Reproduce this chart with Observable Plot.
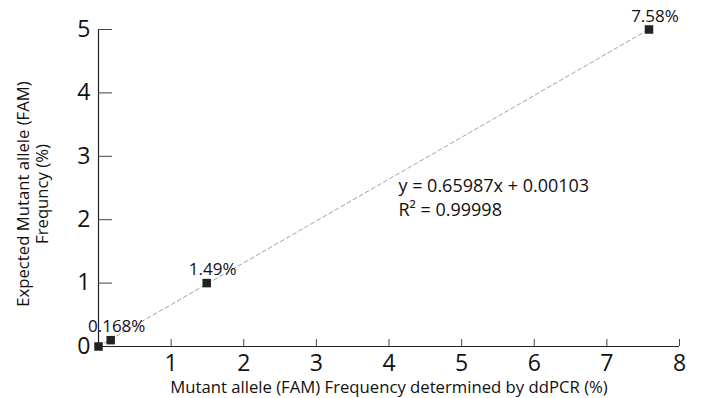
<!DOCTYPE html>
<html><head><meta charset="utf-8">
<script src="https://cdn.jsdelivr.net/npm/d3@7"></script>
<script src="https://cdn.jsdelivr.net/npm/@observablehq/plot@0.6"></script>
<style>body{margin:0;background:#fff}</style>
</head><body><div id="chart"></div>
<script>
const measured = [0, 0.168, 1.49, 7.58];
const expected = [0, 0.1, 1, 5];
const pointLabels = ["", "0.168%", "1.49%", "7.58%"];
const xTicks = [1, 2, 3, 4, 5, 6, 7, 8];
const yTicks = [0, 1, 2, 3, 4, 5];
const equationText = ["y = 0.65987x + 0.00103\nR² = 0.99998"];
const equationPos = {x: 4.13, y: 2.7};
const xLabel = "Mutant allele (FAM) Frequency determined by ddPCR (%)";
const yLabel = "Expected Mutant allele (FAM)\nFrequncy (%)";

const data = measured.map((x, i) => ({x, y: expected[i], label: pointLabels[i]}));
const font = "'Open Sans', sans-serif";

const chart = Plot.plot({
  width: 702, height: 398,
  marginLeft: 98, marginRight: 23, marginTop: 29, marginBottom: 52,
  style: {fontFamily: font, background: "#fff", color: "#111", overflow: "visible"},
  x: {domain: [0, 8], label: null},
  y: {domain: [0, 5], label: null},
  marks: [
    Plot.linearRegressionY(data, {x: "x", y: "y", ci: 0, stroke: "#8a8a8a", strokeWidth: 0.8, strokeDasharray: "4,3"}),
    Plot.ruleY([0], {stroke: "#222", strokeWidth: 1.2}),
    Plot.ruleX([0], {stroke: "#222", strokeWidth: 1.2}),
    Plot.axisX({ticks: xTicks, tickSize: 7, dy: -7, tickFormat: () => "", stroke: "#444", label: null}),
    Plot.axisX({ticks: xTicks, tickSize: 0, tickPadding: 8, tickFormat: d => String(d), fontSize: 23, label: null}),
    Plot.axisY({ticks: yTicks.slice(1), tickSize: 14, dx: 14, tickFormat: () => "", stroke: "#444", label: null}),
    Plot.axisY({ticks: yTicks, tickSize: 0, tickPadding: 8, tickFormat: d => String(d), fontSize: 23, label: null}),
    Plot.dot(data, {x: "x", y: "y", symbol: "square", fill: "#222", r: 4.8}),
    Plot.text(data, {x: "x", y: "y", text: "label", dx: 6, dy: -8, lineAnchor: "bottom", fontSize: 17}),
    Plot.text(equationText, {x: () => equationPos.x, y: () => equationPos.y, text: d => d, textAnchor: "start", lineAnchor: "top", fontSize: 18, lineHeight: 1.33}),
    Plot.text([xLabel], {text: d => d, frameAnchor: "bottom", dy: 41, lineAnchor: "middle", textAnchor: "middle", fontSize: 16.7}),
    Plot.text([yLabel], {text: d => d, frameAnchor: "left", dx: -66, dy: 6, rotate: -90, lineAnchor: "middle", textAnchor: "middle", fontSize: 16.7, lineHeight: 1.12})
  ]
});
document.getElementById("chart").appendChild(chart);
</script>
</body></html>
